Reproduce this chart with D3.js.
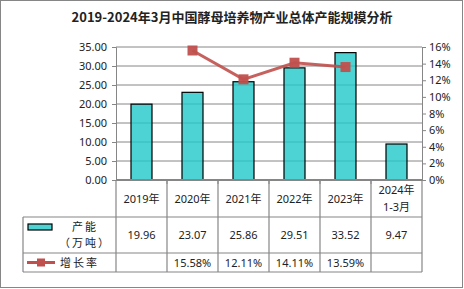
<!DOCTYPE html>
<html>
<head>
<meta charset="utf-8">
<script src="https://cdn.jsdelivr.net/npm/d3@7"></script>
<style>
  body { margin: 0; background: #fff; }
  text { font-family: "Noto Sans", "Noto Sans CJK SC", sans-serif; fill: #222; }
</style>
</head>
<body>
<div id="chart"></div>
<script>
const title = '2019-2024年3月中国酵母培养物产业总体产能规模分析';
const categories = ['2019年', '2020年', '2021年', '2022年', '2023年', '2024年\n1-3月'];
const capacity = [19.96, 23.07, 25.86, 29.51, 33.52, 9.47];
const growth = [null, 15.58, 12.11, 14.11, 13.59, null];
const leftTicks = [0, 5, 10, 15, 20, 25, 30, 35];
const rightTicks = [0, 2, 4, 6, 8, 10, 12, 14, 16];
const barName = ['产能', '（万吨）'];
const lineName = '增长率';

const width = 464, height = 289;
const plot = { left: 116, right: 422, top: 47, bottom: 180 };
const table = { left: 23, rowH: [37, 36, 19] };

const svg = d3.select('#chart').append('svg')
  .attr('width', width)
  .attr('height', height);

svg.append('rect')
  .attr('x', 0.5).attr('y', 0.5)
  .attr('width', width - 2).attr('height', height - 2)
  .attr('fill', '#fff').attr('stroke', '#868686');

svg.append('text')
  .attr('x', 232).attr('y', 22)
  .attr('text-anchor', 'middle')
  .style('font-size', '13px').style('font-weight', 'bold')
  .style('font-family', '"Noto Sans CJK SC", sans-serif')
  .text(title);

const x = d3.scaleBand().domain(categories).range([plot.left, plot.right]);
const y = d3.scaleLinear().domain([0, 35]).range([plot.bottom, plot.top]);
const y2 = d3.scaleLinear().domain([0, 16]).range([plot.bottom, plot.top]);

// gridlines
svg.append('g')
  .selectAll('line')
  .data(leftTicks.slice(1))
  .join('line')
  .attr('x1', plot.left).attr('x2', plot.right)
  .attr('y1', (d) => y(d)).attr('y2', (d) => y(d))
  .attr('stroke', '#868686').attr('stroke-width', 1);

// left axis
const gl = svg.append('g')
  .attr('transform', `translate(${plot.left},0)`)
  .call(d3.axisLeft(y).tickValues(leftTicks).tickSize(4).tickPadding(5).tickFormat(d3.format('.2f')));
gl.select('.domain').attr('stroke', '#868686');
gl.selectAll('.tick line').attr('stroke', '#868686');
gl.selectAll('text').style('font-size', '11px').style('fill', '#222');

// right axis
const gr = svg.append('g')
  .attr('transform', `translate(${plot.right},0)`)
  .call(d3.axisRight(y2).tickValues(rightTicks).tickSize(4).tickPadding(3).tickFormat((d) => d + '%'));
gr.select('.domain').attr('stroke', '#868686');
gr.selectAll('.tick line').attr('stroke', '#868686');
gr.selectAll('text').style('font-size', '11px').style('fill', '#222');

// bars
const barW = 21;
svg.append('g')
  .selectAll('rect')
  .data(capacity)
  .join('rect')
  .attr('x', (d, i) => x(categories[i]) + x.bandwidth() / 2 - barW / 2)
  .attr('y', (d) => y(d))
  .attr('width', barW)
  .attr('height', (d) => y(0) - y(d))
  .attr('fill', '#20c8c8').attr('fill-opacity', 0.8)
  .attr('stroke', '#000').attr('stroke-width', 1.2);

// bottom axis
svg.append('line')
  .attr('x1', plot.left).attr('x2', plot.right)
  .attr('y1', plot.bottom).attr('y2', plot.bottom)
  .attr('stroke', '#868686').attr('stroke-width', 2);
svg.append('g')
  .selectAll('line')
  .data(categories.slice(1))
  .join('line')
  .attr('x1', (d) => x(d)).attr('x2', (d) => x(d))
  .attr('y1', plot.bottom).attr('y2', plot.bottom + 4)
  .attr('stroke', '#868686');

// growth line
const pts = growth.map((v, i) => ({ c: categories[i], v })).filter((d) => d.v != null);
const line = d3.line()
  .x((d) => x(d.c) + x.bandwidth() / 2)
  .y((d) => y2(d.v));
svg.append('path')
  .datum(pts)
  .attr('d', line)
  .attr('fill', 'none')
  .attr('stroke', '#c0504d').attr('stroke-opacity', 0.9)
  .attr('stroke-width', 3);
svg.append('g')
  .selectAll('rect')
  .data(pts)
  .join('rect')
  .attr('x', (d) => x(d.c) + x.bandwidth() / 2 - 5)
  .attr('y', (d) => y2(d.v) - 5)
  .attr('width', 10).attr('height', 10)
  .attr('fill', '#c0504d').attr('fill-opacity', 0.95);

// data table
const rowY = [plot.bottom];
table.rowH.forEach((h) => rowY.push(rowY[rowY.length - 1] + h));
const tg = svg.append('g').attr('stroke', '#868686').attr('stroke-width', 1.2);
// horizontal lines
tg.append('line').attr('x1', table.left).attr('x2', plot.right).attr('y1', rowY[1]).attr('y2', rowY[1]);
tg.append('line').attr('x1', table.left).attr('x2', plot.right).attr('y1', rowY[2]).attr('y2', rowY[2]);
tg.append('line').attr('x1', table.left).attr('x2', plot.right).attr('y1', rowY[3]).attr('y2', rowY[3]);
tg.append('line').attr('x1', table.left).attr('x2', table.left).attr('y1', rowY[1]).attr('y2', rowY[3]);
// vertical lines
tg.selectAll('line.v')
  .data(categories.concat(['end']))
  .join('line')
  .attr('class', 'v')
  .attr('x1', (d, i) => (i < categories.length ? x(d) : plot.right))
  .attr('x2', (d, i) => (i < categories.length ? x(d) : plot.right))
  .attr('y1', rowY[0]).attr('y2', rowY[3]);

const cx = (c) => x(c) + x.bandwidth() / 2;

// header row
categories.forEach((c) => {
  const parts = c.split('\n');
  const mid = (rowY[0] + rowY[1]) / 2;
  parts.forEach((p, j) => {
    svg.append('text')
      .attr('x', cx(c))
      .attr('y', mid + 4 + (j - (parts.length - 1) / 2) * 17)
      .attr('text-anchor', 'middle')
      .style('font-size', '11px')
      .text(p);
  });
});

// capacity row
svg.append('g')
  .selectAll('text')
  .data(capacity)
  .join('text')
  .attr('x', (d, i) => cx(categories[i]))
  .attr('y', (rowY[1] + rowY[2]) / 2 + 4)
  .attr('text-anchor', 'middle')
  .style('font-size', '11px')
  .text((d) => d.toFixed(2));

// growth row
svg.append('g')
  .selectAll('text')
  .data(growth)
  .join('text')
  .attr('x', (d, i) => cx(categories[i]))
  .attr('y', (rowY[2] + rowY[3]) / 2 + 4)
  .attr('text-anchor', 'middle')
  .style('font-size', '11px')
  .text((d) => (d == null ? '' : d.toFixed(2) + '%'));

// legend keys in the table
svg.append('rect')
  .attr('x', 28).attr('y', rowY[1] + 7)
  .attr('width', 24).attr('height', 6)
  .attr('fill', '#20c8c8').attr('fill-opacity', 0.8)
  .attr('stroke', '#000').attr('stroke-width', 1.2);
barName.forEach((t, j) => {
  svg.append('text')
    .attr('x', 85).attr('y', rowY[1] + 14 + j * 16)
    .attr('text-anchor', 'middle')
    .style('font-size', '11px')
    .style('font-family', '"Noto Sans CJK SC", sans-serif')
    .style('letter-spacing', '2px')
    .text(t);
});
const ly = (rowY[2] + rowY[3]) / 2;
svg.append('line')
  .attr('x1', 27).attr('x2', 55).attr('y1', ly).attr('y2', ly)
  .attr('stroke', '#c0504d').attr('stroke-width', 3);
svg.append('rect')
  .attr('x', 37).attr('y', ly - 4).attr('width', 8).attr('height', 8)
  .attr('fill', '#c0504d');
svg.append('text')
  .attr('x', 60).attr('y', ly + 4)
  .style('font-size', '11px')
  .style('letter-spacing', '2px')
  .text(lineName);
</script>
</body>
</html>
